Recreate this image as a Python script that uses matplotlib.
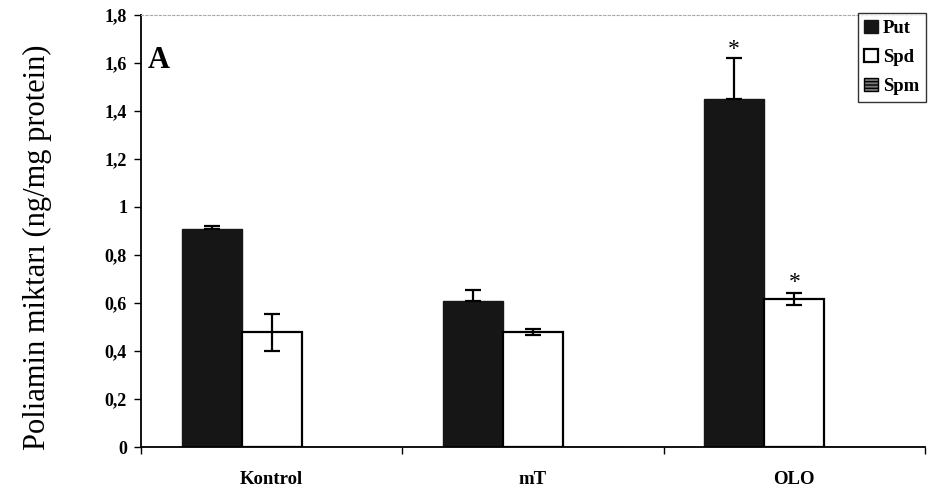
import matplotlib
matplotlib.use("Agg")
import matplotlib.pyplot as plt
import numpy as np

categories = ["Kontrol", "mT", "OLO"]
put_vals = [0.91, 0.61, 1.45]
put_err = [0.012, 0.043, 0.172]
spd_vals = [0.478, 0.48, 0.617]
spd_err = [0.077, 0.013, 0.025]
spm_vals = [0.0, 0.0, 0.0]
series_names = ["Put", "Spd", "Spm"]
ytick_vals = [0, 0.2, 0.4, 0.6, 0.8, 1.0, 1.2, 1.4, 1.6, 1.8]
ytick_labels = ["0", "0,2", "0,4", "0,6", "0,8", "1", "1,2", "1,4", "1,6", "1,8"]
star_put = [False, False, True]
star_spd = [False, False, True]

plt.rcParams['font.family'] = ['Liberation Serif', 'DejaVu Serif']
plt.rcParams['hatch.linewidth'] = 1.0

fig = plt.figure(figsize=(9.29, 4.98), dpi=100)
ax = fig.add_axes([141/929, 1 - 447/498, (925 - 141)/929, (447 - 15)/498])

x = np.arange(len(categories))
w = 0.23
ekw = dict(elinewidth=1.6, capthick=1.6, ecolor='black')
put_yerr = [np.zeros(len(put_err)), put_err]
ax.bar(x - w, put_vals, w, yerr=put_yerr, capsize=6, color='#161616',
       edgecolor='#161616', label=series_names[0], error_kw=ekw, zorder=2)
ax.bar(x, spd_vals, w, yerr=spd_err, capsize=6, color='white',
       edgecolor='black', linewidth=1.6, label=series_names[1], error_kw=ekw, zorder=2)
ax.bar(x + w, spm_vals, w, color='#777777', edgecolor='black', hatch='-----',
       linewidth=1.0, label=series_names[2], zorder=2)

for i in range(len(categories)):
    if star_put[i]:
        ax.text(x[i] - w, put_vals[i] + put_err[i] + 0.035, "*", ha='center', va='center',
                fontsize=17)
    if star_spd[i]:
        ax.text(x[i], spd_vals[i] + spd_err[i] + 0.045, "*", ha='center', va='center',
                fontsize=17)

ax.set_xlim(-0.5, len(categories) - 0.5)
ax.set_ylim(0, 1.8)
ax.set_yticks(ytick_vals)
ax.set_yticklabels(ytick_labels, fontsize=13, fontweight='bold')
ax.set_xticks(np.arange(len(categories) + 1) - 0.5)
ax.set_xticklabels([])
ax.set_xticks(x, minor=True)
ax.set_xticklabels(categories, minor=True, fontsize=13.5, fontweight='bold')
ax.tick_params(axis='x', which='minor', length=0, pad=17)
ax.tick_params(axis='x', which='major', direction='out', length=5, width=1.0)
ax.tick_params(axis='y', direction='out', length=5, width=1.0, pad=5)

ax.spines['left'].set_linewidth(1.3)
ax.spines['bottom'].set_linewidth(1.3)
ax.spines['right'].set_visible(False)
ax.spines['top'].set_linestyle((0, (2, 2)))
ax.spines['top'].set_color('#aaaaaa')
ax.spines['top'].set_linewidth(0.8)

ax.set_ylabel("Poliamin miktarı (ng/mg protein)", fontsize=22)
ax.yaxis.set_label_coords(-0.114, 0.462)
ax.text(0.009, 0.895, "A", transform=ax.transAxes, fontsize=22, fontweight='bold',
        ha='left', va='center')

leg = fig.legend(loc='upper right', bbox_to_anchor=(926/929, 1 - 13/498),
                 prop={'size': 13.5, 'weight': 'bold'}, frameon=True, fancybox=False,
                 handlelength=0.75, handleheight=0.75, handletextpad=0.25,
                 labelspacing=0.62, borderpad=0.35, borderaxespad=0)
leg.get_frame().set_edgecolor('black')
leg.get_frame().set_linewidth(1.0)

fig.savefig("out.png", dpi=100)
